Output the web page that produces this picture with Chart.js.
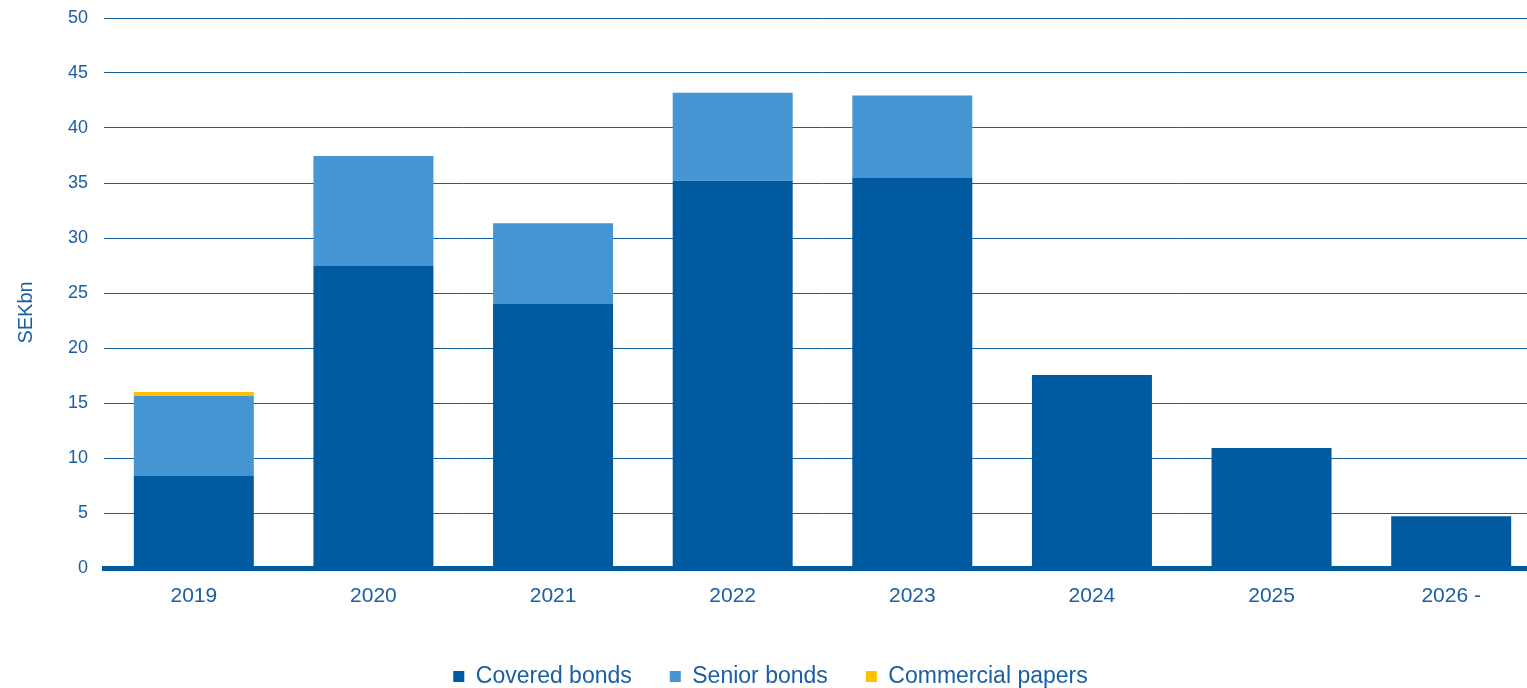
<!DOCTYPE html>
<html>
<head>
<meta charset="utf-8">
<script src="https://cdn.jsdelivr.net/npm/chart.js@4.4.1/dist/chart.umd.min.js"></script>
<style>
html,body{margin:0;padding:0;background:#fff;overflow:hidden;}
#wrap{width:1545px;height:688px;position:relative;}
</style>
</head>
<body>
<div id="wrap"><canvas id="c"></canvas></div>
<script>
const categories = ["2019","2020","2021","2022","2023","2024","2025","2026 -"];
const coveredBonds = [8.4, 27.45, 24.0, 35.2, 35.45, 17.55, 10.9, 4.7];
const seniorBonds = [7.25, 10.0, 7.35, 8.0, 7.5, 0, 0, 0];
const commercialPapers = [0.35, 0, 0, 0, 0, 0, 0, 0];
const yTicks = [0,5,10,15,20,25,30,35,40,45,50];

const TEXT = '#1a5ea4';
const GRID = '#14609f';
const C1 = '#005a9f';
const C2 = '#4596d3';
const C3 = '#ffc000';

new Chart(document.getElementById('c'), {
  type: 'bar',
  data: {
    labels: categories,
    datasets: [
      {label:'Covered bonds', data: coveredBonds, backgroundColor: C1, borderWidth: 0},
      {label:'Senior bonds', data: seniorBonds, backgroundColor: C2, borderWidth: 0},
      {label:'Commercial papers', data: commercialPapers, backgroundColor: C3, borderWidth: 0}
    ]
  },
  options: {
    responsive: true,
    maintainAspectRatio: false,
    animation: false,
    layout: {padding: {top: 18, right: 4, left: 0, bottom: -10}},
    datasets: {bar: {barPercentage: 0.668, categoryPercentage: 1.0}},
    plugins: {
      tooltip: {enabled: false},
      legend: {
        position: 'bottom',
        labels: {
          color: TEXT,
          font: {family: 'Liberation Sans, Arial, sans-serif', size: 23},
          boxWidth: 11,
          boxHeight: 11,
          padding: 38
        }
      }
    },
    scales: {
      x: {
        stacked: true,
        z: 1,
        afterFit: (s) => { s.height = 59; },
        grid: {display: false, drawTicks: false},
        border: {display: true, color: C1, width: 5},
        ticks: {
          color: TEXT,
          font: {family: 'Liberation Sans, Arial, sans-serif', size: 21},
          padding: 16,
          maxRotation: 0
        }
      },
      y: {
        stacked: true,
        min: 0,
        max: 50,
        afterBuildTicks: (s) => { s.ticks = yTicks.map(v => ({value: v})); },
        afterFit: (s) => { s.width = 104; s.paddingTop = 0; s.paddingBottom = 0; },
        grid: {color: GRID, lineWidth: 1, drawTicks: false},
        border: {display: false},
        ticks: {
          color: TEXT,
          font: {family: 'Liberation Sans, Arial, sans-serif', size: 18},
          padding: 16
        },
        title: {
          display: true,
          text: 'SEKbn       ',
          color: TEXT,
          font: {family: 'Liberation Sans, Arial, sans-serif', size: 20},
          padding: {top: 14, bottom: 0}
        }
      }
    }
  }
});
</script>
</body>
</html>
